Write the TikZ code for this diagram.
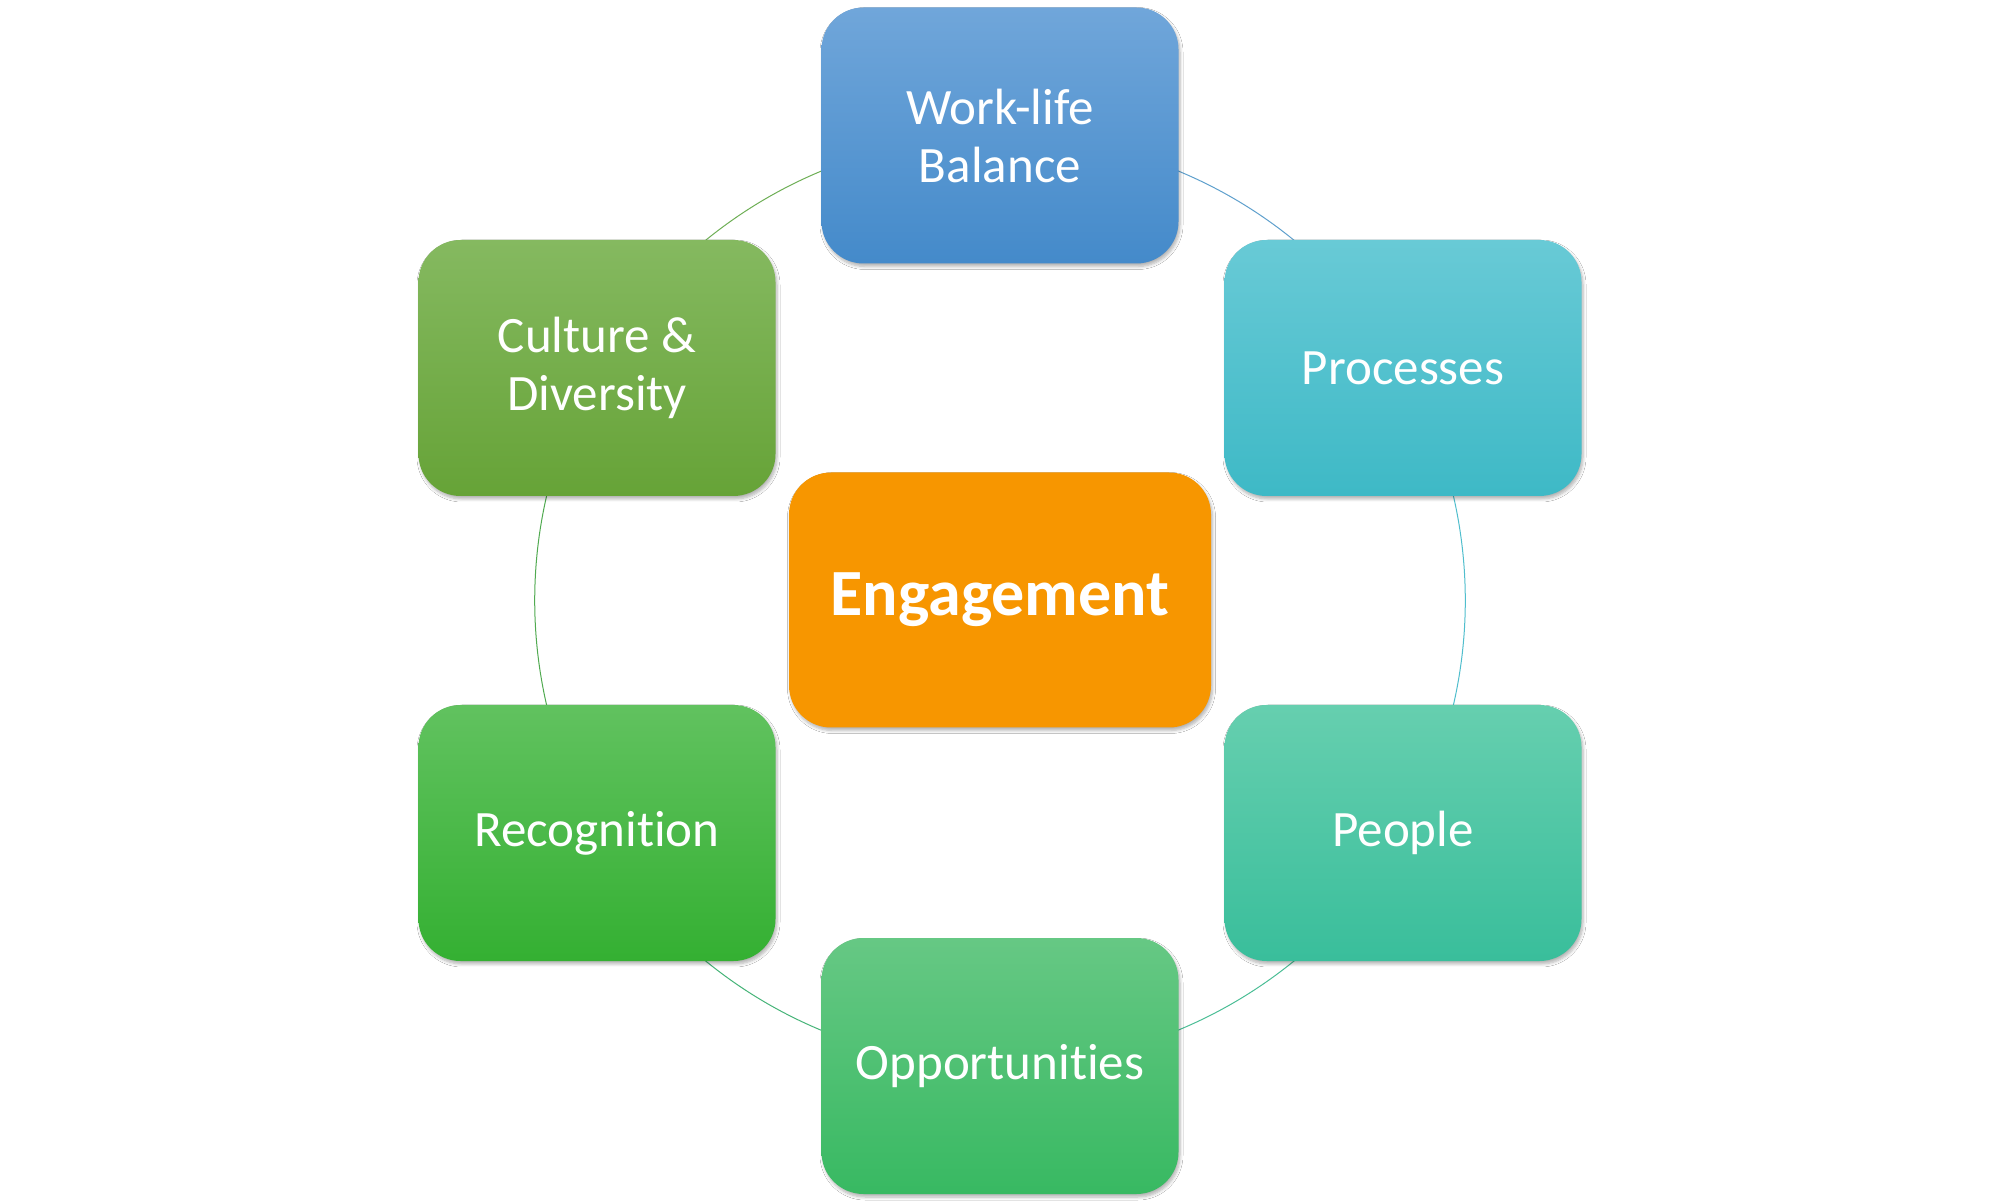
\documentclass[tikz,border=0pt]{standalone}
\usepackage{fontspec}
\setmainfont{Carlito}[RawFeature=-liga]
\usetikzlibrary{shadows.blur,backgrounds}
\definecolor{wlT}{RGB}{112,166,218}\definecolor{wlB}{RGB}{68,138,202}
\definecolor{prT}{RGB}{104,202,214}\definecolor{prB}{RGB}{62,185,198}
\definecolor{cuT}{RGB}{133,185,96}\definecolor{cuB}{RGB}{102,163,55}
\definecolor{reT}{RGB}{97,194,95}\definecolor{reB}{RGB}{52,176,50}
\definecolor{peT}{RGB}{102,207,175}\definecolor{peB}{RGB}{57,190,155}
\definecolor{opT}{RGB}{102,200,132}\definecolor{opB}{RGB}{56,185,98}
\definecolor{engC}{RGB}{247,150,0}
\definecolor{a1}{RGB}{95,160,205}\definecolor{a2}{RGB}{80,190,205}
\definecolor{a3}{RGB}{75,190,150}\definecolor{a4}{RGB}{70,180,120}
\definecolor{a5}{RGB}{80,170,80}\definecolor{a6}{RGB}{110,175,85}
\tikzset{
  box/.style={rounded corners=42pt, minimum width=357pt, minimum height=256pt,
    inner sep=0pt, text=white, align=center, font=\fontsize{51}{58}\selectfont,
    blur shadow={shadow xshift=1.5pt, shadow yshift=-3pt, shadow blur steps=6, shadow blur radius=3pt, shadow opacity=30}},
  ring/.style={line width=1pt}
}
\begin{document}
\begin{tikzpicture}[x=1pt,y=1pt]
\useasboundingbox (0,0) rectangle (2000,1203);
\node[box, top color=wlT, bottom color=wlB] (wl) at (1000,1067.5) {Work-life\\Balance};
\node[box, top color=prT, bottom color=prB] (pr) at (1403,835) {Processes};
\node[box, top color=cuT, bottom color=cuB] (cu) at (597,835) {Culture \&\\Diversity};
\node[box, fill=engC, minimum width=422pt, minimum height=255pt, font=\fontsize{66}{72}\selectfont\bfseries] (en) at (1000,603) {Engagement};
\node[box, top color=reT, bottom color=reB] (re) at (597,370) {Recognition};
\node[box, top color=peT, bottom color=peB] (pe) at (1403,370) {People};
\node[box, top color=opT, bottom color=opB] (op) at (1000,137) {Opportunities};
\begin{scope}[on background layer]
\fill[white] (0,0) rectangle (2000,1203);
\draw[ring, a1] (wl.center) arc[start angle=90, end angle=30, radius=465];
\draw[ring, a2] (pr.center) arc[start angle=30, end angle=-30, radius=465];
\draw[ring, a3] (pe.center) arc[start angle=-30, end angle=-90, radius=465];
\draw[ring, a4] (op.center) arc[start angle=-90, end angle=-150, radius=465];
\draw[ring, a5] (re.center) arc[start angle=210, end angle=150, radius=465];
\draw[ring, a6] (cu.center) arc[start angle=150, end angle=90, radius=465];
\end{scope}
\end{tikzpicture}
\end{document}
